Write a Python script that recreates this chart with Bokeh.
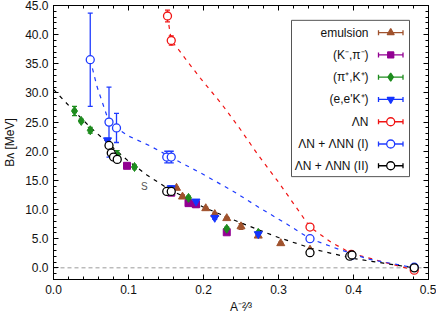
from bokeh.plotting import figure
from bokeh.models import (ColumnDataSource, Whisker, TeeHead, Span, Label, LinearAxis,
                          PrintfTickFormatter, FixedTicker, Range1d)
from bokeh.embed import file_html
from bokeh.resources import INLINE

# ---------------- data ----------------
emul_x = [0.164, 0.172, 0.190, 0.203, 0.215, 0.231, 0.250, 0.273, 0.303, 0.342]
emul_y = [13.7, 12.2, 10.8, 10.2, 9.2, 8.5, 7.1, 5.5, 4.2, 3.1]
emul_e = [0.2, 0.3, 0.2, 0.2, 0.2, 0.2, 0.5, 0.2, 0.2, 0.1]

kpi_x = [0.098, 0.157, 0.180, 0.190, 0.231]
kpi_y = [17.5, 12.9, 11.1, 10.9, 6.1]
kpi_e = [0.4, 0.2, 0.2, 0.2, 0.2]

pik_x = [0.028, 0.037, 0.049, 0.085, 0.108, 0.180, 0.231, 0.273]
pik_y = [26.9, 25.2, 23.6, 19.4, 17.3, 12.0, 6.7, 6.0]
pik_e = [0.8, 0.3, 0.5, 0.7, 0.3, 0.3, 0.3, 0.2]

eek_x = [0.072, 0.157, 0.190, 0.215, 0.273]
eek_y = [21.9, 13.7, 11.4, 8.6, 5.8]
eek_e = [0.3, 0.3, 0.3, 0.3, 0.3]

ln_x = [0.152, 0.157, 0.342, 0.397, 0.481]
ln_y = [43.2, 39.0, 7.0, 2.3, -0.4]
ln_e = [1.0, 0.8, 0.1, 0.1, 0.1]

lnn1_x = [0.049, 0.074, 0.084, 0.151, 0.157, 0.342, 0.397, 0.481]
lnn1_y = [35.7, 25.0, 24.0, 19.0, 19.0, 5.0, 2.1, 0.1]
lnn1_e = [8.0, 6.0, 2.5, 1.0, 1.0, 0.2, 0.1, 0.1]

lnn2_x = [0.074, 0.077, 0.080, 0.085, 0.151, 0.157, 0.342, 0.395, 0.398, 0.481]
lnn2_y = [21.0, 19.7, 19.0, 18.6, 13.1, 13.1, 2.6, 2.0, 2.2, 0.0]

# dashed fit curves
fitr_x = [0.152, 0.157, 0.167, 0.175, 0.196, 0.223, 0.250, 0.272, 0.300, 0.342, 0.370, 0.397, 0.440, 0.481]
fitr_y = [43.2, 39.0, 37.4, 36.0, 32.5, 28.3, 23.6, 19.5, 14.7, 7.0, 4.4, 2.5, 1.0, -0.4]
fitb_x = [0.049, 0.058, 0.074, 0.084, 0.100, 0.129, 0.152, 0.169, 0.196, 0.240, 0.276, 0.310, 0.342, 0.380, 0.420, 0.481]
fitb_y = [35.7, 31.1, 25.0, 24.0, 22.6, 20.9, 19.3, 18.1, 16.3, 13.1, 10.2, 7.6, 5.0, 3.2, 1.5, 0.0]
fitk_x = [0.0, 0.025, 0.05, 0.075, 0.1, 0.125, 0.15, 0.2, 0.25, 0.3, 0.35, 0.4, 0.44, 0.481]
fitk_y = [30.6, 27.2, 24.0, 21.1, 18.3, 15.9, 13.8, 10.4, 7.7, 5.2, 3.1, 1.6, 0.8, 0.0]

x_ticks = [0.0, 0.1, 0.2, 0.3, 0.4, 0.5]
y_ticks = [0, 5, 10, 15, 20, 25, 30, 35, 40, 45]
x_minor = [i * 0.02 for i in range(26)]
y_minor = list(range(-2, 46))

legend_labels = ["emulsion", "(K\u207b,\u03c0\u207b)", "(\u03c0\u207a,K\u207a)", "(e,e'K\u207a)",
                 "\u039bN", "\u039bN + \u039bNN (I)", "\u039bN + \u039bNN (II)"]
x_title = "A\u207b\u00b2\u2044\u00b3"
y_title = "B\u1d27 [MeV]"

# ---------------- styles ----------------
C_EMUL = "#a0522d"
C_KPI = "#920092"
C_PIK = "#1e8c1e"
C_EEK = "#1434ff"
C_LN = "#f01414"
C_L1 = "#1f3bff"
C_L2 = "#000000"
FONT = "Liberation Sans"

W, H = 436, 316
X0, X1, Y0, Y1 = 0.0, 0.5, -2.0, 45.0
FL, FR, FT, FB = 53, 428, 5, 282  # pixel position of the frame


def dx(px):
    return X0 + (px - FL) * (X1 - X0) / (FR - FL)


def dy(py):
    return Y0 + (FB - py) * (Y1 - Y0) / (FB - FT)


p = figure(width=W, height=H, x_range=Range1d(X0, X1), y_range=Range1d(Y0, Y1),
           output_backend="svg", toolbar_location=None,
           min_border_left=FL, min_border_right=W - FR, min_border_top=FT,
           min_border_bottom=H - FB)
p.xgrid.visible = False
p.ygrid.visible = False
p.outline_line_color = "black"
p.background_fill_color = "white"
p.border_fill_color = "white"

bottom = p.below[0]
left = p.left[0]

xt = FixedTicker(ticks=x_ticks, minor_ticks=x_minor)
yt = FixedTicker(ticks=y_ticks, minor_ticks=y_minor)
bottom.ticker = xt
left.ticker = yt
bottom.formatter = PrintfTickFormatter(format="%.1f")
left.formatter = PrintfTickFormatter(format="%.1f")

top = LinearAxis(ticker=xt, major_label_standoff=0,
                 major_label_overrides={t: "" for t in x_ticks})
right = LinearAxis(ticker=yt, major_label_standoff=0,
                   major_label_overrides={t: "" for t in y_ticks})
p.add_layout(top, "above")
p.add_layout(right, "right")

for ax in [bottom, left, top, right]:
    ax.major_tick_in = 5
    ax.major_tick_out = 0
    ax.minor_tick_in = 3
    ax.minor_tick_out = 0
    ax.axis_line_color = "black"
    ax.major_tick_line_color = "black"
    ax.minor_tick_line_color = "black"
for ax in [bottom, left]:
    ax.major_label_text_font = FONT
    ax.major_label_text_font_size = "12px"
    ax.major_label_text_color = "#111111"
    ax.major_label_standoff = 5
    ax.axis_label_text_font = FONT
    ax.axis_label_text_font_size = "12px"
    ax.axis_label_text_font_style = "normal"
    ax.axis_label_text_color = "#111111"
bottom.axis_label = x_title
bottom.axis_label_standoff = 3
left.axis_label = y_title
left.axis_label_standoff = 5

# zero line
p.add_layout(Span(location=0, dimension="width", line_color="#9a9a9a", line_width=1,
                  line_dash="4 3", level="underlay"))

# fit curves
p.line(fitr_x, fitr_y, line_color=C_LN, line_width=1.2, line_dash="4 5")
p.line(fitb_x, fitb_y, line_color=C_L1, line_width=1.2, line_dash="4 5")
p.line(fitk_x, fitk_y, line_color=C_L2, line_width=1.2, line_dash="4 5")


def errbars(xs, ys, es, color):
    src = ColumnDataSource(dict(x=xs, lo=[y - e for y, e in zip(ys, es)],
                                hi=[y + e for y, e in zip(ys, es)]))
    w = Whisker(source=src, base="x", lower="lo", upper="hi", dimension="height",
                line_color=color, line_width=1.3,
                upper_head=TeeHead(size=5, line_color=color, line_width=1.3),
                lower_head=TeeHead(size=5, line_color=color, line_width=1.3))
    p.add_layout(w)


errbars(emul_x, emul_y, emul_e, C_EMUL)
errbars(kpi_x, kpi_y, kpi_e, C_KPI)
errbars(pik_x, pik_y, pik_e, C_PIK)
errbars(eek_x, eek_y, eek_e, C_EEK)
errbars(ln_x, ln_y, ln_e, C_LN)
errbars(lnn1_x, lnn1_y, lnn1_e, C_L1)

p.scatter(emul_x, emul_y, marker="triangle", size=8, fill_color=C_EMUL, line_color=C_EMUL)
p.scatter(kpi_x, kpi_y, marker="square", size=7, fill_color=C_KPI, line_color=C_KPI)
p.scatter(pik_x, pik_y, marker="diamond", size=9, fill_color=C_PIK, line_color=C_PIK)
p.scatter(eek_x, eek_y, marker="inverted_triangle", size=8, fill_color=C_EEK, line_color=C_EEK)
p.scatter(ln_x, ln_y, marker="circle", size=8, fill_color="white", line_color=C_LN, line_width=1.3)
p.scatter(lnn1_x, lnn1_y, marker="circle", size=8, fill_color="white", line_color=C_L1, line_width=1.3)
p.scatter(lnn2_x, lnn2_y, marker="circle", size=8, fill_color="white", line_color=C_L2, line_width=1.3)

p.add_layout(Label(x=0.121, y=13.9, text="S", text_font=FONT, text_font_size="10px",
                   text_color="#555555", text_align="center", text_baseline="middle"))

# ---------------- legend (text left, sample right) ----------------
p.quad(left=[dx(291)], right=[dx(409)], top=[dy(20)], bottom=[dy(178)],
       fill_color="white", line_color="#555555", line_width=1)
leg_colors = [C_EMUL, C_KPI, C_PIK, C_EEK, C_LN, C_L1, C_L2]
leg_markers = ["triangle", "square", "diamond", "inverted_triangle", "circle", "circle", "circle"]
leg_sizes = [7, 6, 8, 7, 8, 8, 8]
leg_fill = [C_EMUL, C_KPI, C_PIK, C_EEK, "white", "white", "white"]
row_py = [32.5, 55, 77.5, 100, 122.5, 145, 167]
for lab, c, m, s, f, py in zip(legend_labels, leg_colors, leg_markers, leg_sizes, leg_fill, row_py):
    yy = dy(py)
    p.segment(x0=[dx(378)], y0=[yy], x1=[dx(402.5)], y1=[yy], line_color=c, line_width=1.3)
    p.segment(x0=[dx(378), dx(402.5)], y0=[dy(py - 2.5)] * 2, x1=[dx(378), dx(402.5)],
              y1=[dy(py + 2.5)] * 2, line_color=c, line_width=1.3)
    p.scatter([dx(390.2)], [yy], marker=m, size=s, fill_color=f, line_color=c, line_width=1.3)
    p.add_layout(Label(x=dx(368), y=yy, text=lab, text_font=FONT, text_font_size="12px",
                       text_color="#111111", text_align="right", text_baseline="middle"))

open("out.html", "w").write(file_html(p, INLINE))
